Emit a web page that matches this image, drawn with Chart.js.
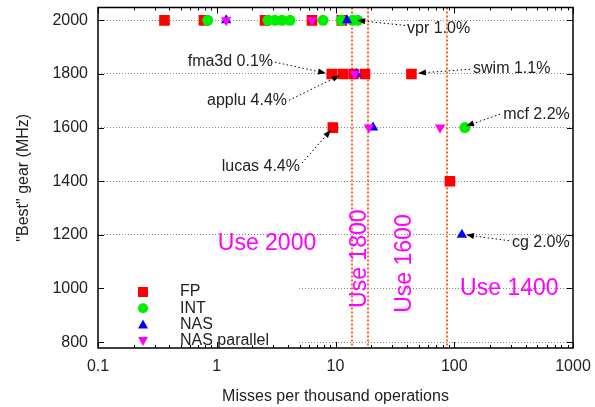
<!DOCTYPE html>
<html>
<head>
<meta charset="utf-8">
<script src="https://cdn.jsdelivr.net/npm/chart.js@4.4.1/dist/chart.umd.min.js"></script>
<style>
html, body { margin: 0; padding: 0; background: #fff; }
</style>
</head>
<body>
<canvas id="gearChart" width="595" height="407"></canvas>
<script>
// misses per thousand operations (x) vs best gear in MHz (y)
var fpX = [0.363, 0.78, 2.55, 6.34, 11.3, 9.3, 11.5, 14.2, 17.7, 43.6, 9.5, 92];
var fpY = [2000, 2000, 2000, 2000, 2000, 1800, 1800, 1800, 1800, 1800, 1600, 1400];
var intX = [0.84, 2.70, 3.09, 3.54, 4.14, 7.85, 11.2, 13.9, 15.4, 123];
var intY = [2000, 2000, 2000, 2000, 2000, 2000, 2000, 2000, 2000, 1600];
var nasX = [1.20, 12.5, 15.0, 20.7, 116];
var nasY = [2000, 2000, 1800, 1600, 1200];
var nasParX = [1.20, 6.34, 14.5, 19.1, 75.9];
var nasParY = [2000, 2000, 1800, 1600, 1600];

var xTicks = [0.1, 1, 10, 100, 1000];
var yTicks = [800, 1000, 1200, 1400, 1600, 1800, 2000];

// gear switch thresholds (vertical lines) and region labels
var thresholds = [13.8, 18.8, 86.9];
var gearText = ["Use 2000", "Use 1800", "Use 1600", "Use 1400"];
var gearX = [1.02, 16.0, 38.5, 112];
var gearY = [1167, 1111, 1093, 1000];

// benchmark callouts
var noteText = ["vpr 1.0%", "swim 1.1%", "fma3d 0.1%", "applu 4.4%", "lucas 4.4%", "mcf 2.2%", "cg 2.0%"];
var noteX = [40, 144, 2.98, 3.91, 5.02, 258, 306];
var noteY = [1970, 1821, 1848, 1699, 1453, 1647, 1171];
var tailX = [38.5, 136, 3.09, 4.06, 5.22, 243, 289];
var tailY = [1981, 1818, 1844, 1702, 1468, 1650, 1178];
var tipX = [15.2, 49.5, 8.32, 10.9, 9.16, 125.6, 125.6];
var tipY = [2000, 1803, 1803, 1795, 1591, 1606, 1200];

var FONT = "'Liberation Sans', Arial, Helvetica, sans-serif";
var TXT = '#222';

function pts(xs, ys) {
    return xs.map(function(x, i) { return { x: x, y: ys[i] }; });
}

function marker(ctx, style, x, y, color) {
    ctx.fillStyle = color;
    ctx.beginPath();
    if (style === 'rect') {
        ctx.rect(x - 5, y - 5, 10, 10);
    } else if (style === 'circle') {
        ctx.arc(x, y, 5, 0, Math.PI * 2);
    } else if (style === 'up') {
        ctx.moveTo(x, y - 5); ctx.lineTo(x + 5, y + 4); ctx.lineTo(x - 5, y + 4);
    } else {
        ctx.moveTo(x, y + 5); ctx.lineTo(x + 5, y - 4); ctx.lineTo(x - 5, y - 4);
    }
    ctx.closePath();
    ctx.fill();
}

var decorPlugin = {
    id: 'decor',
    beforeDatasetsDraw: function(chart) {
        var ctx = chart.ctx, a = chart.chartArea;
        var xs = chart.scales.x, ys = chart.scales.y;
        ctx.save();
        // threshold lines
        ctx.strokeStyle = '#ff6420';
        ctx.lineWidth = 2;
        ctx.setLineDash([2, 2]);
        thresholds.forEach(function(t) {
            var px = Math.round(xs.getPixelForValue(t));
            ctx.beginPath();
            ctx.moveTo(px, a.top);
            ctx.lineTo(px, a.bottom);
            ctx.stroke();
        });
        ctx.setLineDash([]);
        // region labels
        ctx.fillStyle = '#ff00ff';
        ctx.font = '23px ' + FONT;
        ctx.textBaseline = 'middle';
        gearText.forEach(function(t, i) {
            var px = xs.getPixelForValue(gearX[i]);
            var py = ys.getPixelForValue(gearY[i]);
            if (i === 1 || i === 2) {
                ctx.save();
                ctx.translate(px, py);
                ctx.rotate(-Math.PI / 2);
                ctx.textAlign = 'center';
                ctx.fillText(t, 0, 0);
                ctx.restore();
            } else {
                ctx.textAlign = 'left';
                ctx.fillText(t, px, py);
            }
        });
        // legend box
        ctx.fillStyle = '#fff';
        ctx.fillRect(a.left + 1, a.bottom - 67, 199, 66);
        var styles = ['rect', 'circle', 'up', 'down'];
        ctx.font = '16px ' + FONT;
        ctx.textAlign = 'left';
        chart.data.datasets.forEach(function(ds, i) {
            var ly = a.bottom - 56 + i * 16.3;
            marker(ctx, styles[i], a.left + 45, ly, ds.backgroundColor);
            ctx.fillStyle = TXT;
            ctx.fillText(ds.label, a.left + 82, ly);
        });
        ctx.restore();
    },
    afterDatasetsDraw: function(chart) {
        var ctx = chart.ctx, a = chart.chartArea;
        var xs = chart.scales.x, ys = chart.scales.y;
        ctx.save();
        // callouts
        ctx.font = '16px ' + FONT;
        ctx.textBaseline = 'middle';
        noteText.forEach(function(t, i) {
            var lx = xs.getPixelForValue(noteX[i]), ly = ys.getPixelForValue(noteY[i]);
            var sx = xs.getPixelForValue(tailX[i]), sy = ys.getPixelForValue(tailY[i]);
            var ex = xs.getPixelForValue(tipX[i]), ey = ys.getPixelForValue(tipY[i]);
            ctx.fillStyle = TXT;
            ctx.textAlign = lx > ex ? 'left' : 'right';
            ctx.fillText(t, lx, ly);
            var ang = Math.atan2(ey - sy, ex - sx);
            var hx = ex - Math.cos(ang) * 8, hy = ey - Math.sin(ang) * 8;
            ctx.strokeStyle = '#000';
            ctx.lineWidth = 1;
            ctx.setLineDash([1.5, 2.5]);
            ctx.beginPath();
            ctx.moveTo(sx, sy);
            ctx.lineTo(hx, hy);
            ctx.stroke();
            ctx.setLineDash([]);
            ctx.fillStyle = '#000';
            ctx.beginPath();
            ctx.moveTo(ex, ey);
            ctx.lineTo(hx + Math.sin(ang) * 3, hy - Math.cos(ang) * 3);
            ctx.lineTo(hx - Math.sin(ang) * 3, hy + Math.cos(ang) * 3);
            ctx.closePath();
            ctx.fill();
        });
        // frame and inward ticks
        ctx.strokeStyle = '#000';
        ctx.lineWidth = 1.5;
        ctx.strokeRect(a.left, a.top, a.right - a.left, a.bottom - a.top);
        ctx.lineWidth = 1;
        ctx.beginPath();
        for (var d = 0; d < xTicks.length; d++) {
            for (var k = 1; k <= 9; k++) {
                if (k > 1 && d === xTicks.length - 1) break;
                var px = Math.round(xs.getPixelForValue(xTicks[d] * k)) + 0.5;
                var len = k === 1 ? 6 : 3;
                ctx.moveTo(px, a.bottom); ctx.lineTo(px, a.bottom - len);
                ctx.moveTo(px, a.top); ctx.lineTo(px, a.top + len);
            }
        }
        yTicks.forEach(function(v) {
            var py = Math.round(ys.getPixelForValue(v)) + 0.5;
            ctx.moveTo(a.left, py); ctx.lineTo(a.left + 6, py);
            ctx.moveTo(a.right, py); ctx.lineTo(a.right - 6, py);
        });
        ctx.stroke();
        ctx.restore();
    }
};

var ctxGear = document.getElementById("gearChart");

var gearChart = new Chart(ctxGear, {
    type: "scatter",
    data: {
        datasets: [
            { label: "FP", data: pts(fpX, fpY), pointStyle: 'rect', pointRadius: 7.5,
              backgroundColor: '#ff0000', borderColor: '#ff0000', borderWidth: 0, order: 3 },
            { label: "INT", data: pts(intX, intY), pointStyle: 'circle', pointRadius: 5.5,
              backgroundColor: '#00ee00', borderColor: '#00ee00', borderWidth: 0, order: 2 },
            { label: "NAS", data: pts(nasX, nasY), pointStyle: 'triangle', pointRadius: 6,
              backgroundColor: '#0000ff', borderColor: '#0000ff', borderWidth: 0, order: 1 },
            { label: "NAS parallel", data: pts(nasParX, nasParY), pointStyle: 'triangle', pointRadius: 6,
              pointRotation: 180, backgroundColor: '#ff00ff', borderColor: '#ff00ff', borderWidth: 0, order: 0 },
        ],
    },
    options: {
        responsive: false,
        animation: false,
        devicePixelRatio: 1,
        layout: { padding: { left: 0, right: 22, top: 5, bottom: 0 } },
        plugins: { legend: { display: false }, tooltip: { enabled: false } },
        scales: {
            x: {
                type: 'logarithmic',
                min: 0.1,
                max: 1000,
                afterBuildTicks: function(s) { s.ticks = xTicks.map(function(v) { return { value: v }; }); },
                afterFit: function(s) { s.height = 59; s.paddingLeft = 0; s.paddingRight = 0; },
                grid: { display: false, drawTicks: false },
                border: { display: false },
                ticks: {
                    font: { size: 16, family: FONT }, color: TXT, padding: 9,
                    maxRotation: 0, autoSkip: false,
                    callback: function(v) { return String(v); },
                },
                title: {
                    display: true, text: 'Misses per thousand operations',
                    font: { size: 16, family: FONT }, color: TXT, padding: { top: 0, bottom: 1 },
                },
            },
            y: {
                min: 778,
                max: 2048,
                afterBuildTicks: function(s) { s.ticks = yTicks.map(function(v) { return { value: v }; }); },
                afterFit: function(s) { s.width = 98; s.paddingTop = 0; s.paddingBottom = 0; },
                grid: { color: '#888', lineWidth: 1, drawTicks: false },
                border: { display: false, dash: [1, 2] },
                ticks: {
                    font: { size: 16, family: FONT }, color: TXT, padding: 10,
                    callback: function(v) { return String(v); },
                },
                title: {
                    display: true, text: '"Best" gear (MHz)',
                    font: { size: 16, family: FONT }, color: TXT, padding: { top: 14, bottom: 0 },
                },
            },
        },
    },
    plugins: [decorPlugin],
});
</script>
</body>
</html>
